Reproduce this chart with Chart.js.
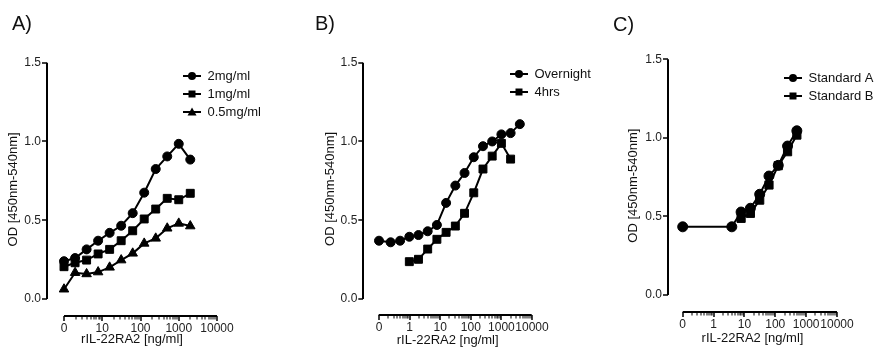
<!DOCTYPE html>
<html>
<head>
<meta charset="utf-8">
<script src="https://cdn.jsdelivr.net/npm/chart.js@4.4.1/dist/chart.umd.min.js"></script>
<style>
    body { margin: 0; background: #fff; }
    #painel { position: relative; width: 888px; height: 354px; overflow: hidden; font-family: "Liberation Sans", Arial, sans-serif; }
    .grafico { position: absolute; top: 0; width: 296px; height: 354px; }
    .letra { position: absolute; font-size: 20px; line-height: 22px; color: #111; }
</style>
</head>
<body>
<div id="painel">
    <div class="grafico" style="left:0px"><canvas id="graficoA" width="296" height="354"></canvas></div>
    <div class="grafico" style="left:296px"><canvas id="graficoB" width="296" height="354"></canvas></div>
    <div class="grafico" style="left:592px"><canvas id="graficoC" width="296" height="354"></canvas></div>
    <div class="letra" style="left:12px;top:12px">A)</div>
    <div class="letra" style="left:315px;top:12px">B)</div>
    <div class="letra" style="left:613px;top:13px">C)</div>
</div>
<script>
const FONTE = '"Liberation Sans", Arial, sans-serif';

// A) concentração (ng/ml) x OD
const concA = [0, 1.95, 3.9, 7.8, 15.6, 31.25, 62.5, 125, 250, 500, 1000, 2000];
const od2mg = [0.24, 0.26, 0.315, 0.37, 0.42, 0.465, 0.545, 0.675, 0.825, 0.905, 0.985, 0.885];
const od1mg = [0.205, 0.23, 0.247, 0.286, 0.315, 0.37, 0.433, 0.508, 0.571, 0.639, 0.630, 0.671];
const od05mg = [0.062, 0.167, 0.159, 0.171, 0.201, 0.247, 0.29, 0.353, 0.385, 0.449, 0.48, 0.463];

// B)
const concOvernight = [0, 0.24, 0.49, 0.98, 1.95, 3.9, 7.8, 15.6, 31.25, 62.5, 125, 250, 500, 1000, 2000, 4000];
const odOvernight = [0.37, 0.36, 0.37, 0.395, 0.406, 0.43, 0.47, 0.61, 0.72, 0.80, 0.90, 0.97, 1.0, 1.045, 1.053, 1.11];
const conc4hrs = [0.98, 1.95, 3.9, 7.8, 15.6, 31.25, 62.5, 125, 250, 500, 1000, 2000];
const od4hrs = [0.237, 0.252, 0.317, 0.379, 0.423, 0.463, 0.544, 0.674, 0.825, 0.907, 0.988, 0.888];

// C)
const concPadraoA = [0, 3.9, 7.8, 15.6, 31.25, 62.5, 125, 250, 500];
const odPadraoA = [0.434, 0.434, 0.528, 0.552, 0.641, 0.757, 0.825, 0.948, 1.045];
const concPadraoB = [7.8, 15.6, 31.25, 62.5, 125, 250, 500];
const odPadraoB = [0.488, 0.52, 0.604, 0.70, 0.823, 0.912, 1.018];

// eixos
const ticksY = [0, 0.5, 1.0, 1.5];
const rotulosY = ['0.0', '0.5', '1.0', '1.5'];
const ticksXA = [1, 10, 100, 1000, 10000];
const rotulosXA = ['0', '10', '100', '1000', '10000'];
const ticksXBC = [0.1, 1, 10, 100, 1000, 10000];
const rotulosXBC = ['0', '1', '10', '100', '1000', '10000'];

const tituloY = 'OD [450nm-540nm]';
const tituloX = 'rIL-22RA2 [ng/ml]';

function paraPontos(conc, od, posZero) {
    return conc.map((c, i) => ({ x: c === 0 ? posZero : c, y: od[i] }));
}

function amostraLegenda(estilo) {
    const c = document.createElement('canvas');
    c.width = 18;
    c.height = 12;
    const g = c.getContext('2d');
    g.fillStyle = '#000';
    g.strokeStyle = '#000';
    g.lineWidth = 2;
    g.beginPath();
    g.moveTo(0, 6);
    g.lineTo(18, 6);
    g.stroke();
    g.beginPath();
    if (estilo === 'rect') {
        g.rect(5.5, 2.5, 7, 7);
    } else if (estilo === 'triangle') {
        g.moveTo(9, 1.5);
        g.lineTo(13.5, 9.5);
        g.lineTo(4.5, 9.5);
        g.closePath();
    } else {
        g.arc(9, 6, 4, 0, Math.PI * 2);
    }
    g.fill();
    return c;
}

function serie(rotulo, pontos, estilo, raio) {
    return {
        label: rotulo,
        data: pontos,
        pointStyle: estilo,
        pointRadius: raio,
        pointBackgroundColor: '#000',
        pointBorderColor: '#000',
        pointBorderWidth: 1,
        borderColor: '#000',
        backgroundColor: '#000',
        borderWidth: 2,
        tension: 0,
        fill: false
    };
}

// move a legenda para a posição desejada depois do layout
const moverLegenda = {
    id: 'moverLegenda',
    afterLayout(chart, args, opts) {
        const lg = chart.legend;
        if (!lg) return;
        const w = lg.width;
        const h = lg.height;
        lg.left = opts.x - 5;
        lg.right = lg.left + w;
        lg.top = opts.y - 6.5 - 5;
        lg.bottom = lg.top + h;
    }
};

function criarGrafico(id, geo, maiores, rotulos, datasets) {
    const ctx = document.getElementById(id).getContext('2d');

    const nDecadas = Math.log10(maiores[maiores.length - 1] / maiores[0]);
    const pxDecada = (geo.direita - geo.inicioX) / nDecadas;
    const folgaX = geo.inicioX - geo.eixoY;
    const xMin = maiores[0] / Math.pow(10, folgaX / pxDecada);
    const pxUnidade = (geo.zeroY - geo.topo) / 1.5;
    const yMin = -(geo.eixoX - geo.zeroY) / pxUnidade;

    const menores = [];
    for (let i = 0; i < maiores.length - 1; i++) {
        for (let k = 2; k <= 9; k++) menores.push(maiores[i] * k);
    }
    const valoresX = [xMin].concat(maiores, menores).sort((a, b) => a - b);
    const ehMaior = (v) => maiores.findIndex(m => Math.abs(v - m) / m < 1e-6);

    const compY = geo.zeroY - geo.topo;
    const compX = geo.direita - geo.inicioX;

    return new Chart(ctx, {
        type: 'line',
        data: { datasets },
        plugins: [moverLegenda],
        options: {
            responsive: false,
            animation: false,
            devicePixelRatio: 1,
            layout: {
                padding: { left: 0, top: geo.topo, right: 296 - geo.direita, bottom: 0 }
            },
            scales: {
                x: {
                    type: 'logarithmic',
                    min: xMin,
                    max: maiores[maiores.length - 1],
                    afterBuildTicks: (eixo) => {
                        eixo.ticks = valoresX.map(v => ({ value: v }));
                    },
                    afterFit: (eixo) => {
                        eixo.height = 354 - geo.eixoX;
                    },
                    ticks: {
                        autoSkip: false,
                        maxRotation: 0,
                        minRotation: 0,
                        padding: 0,
                        color: '#222',
                        font: { family: FONTE, size: 12 },
                        callback: (valor) => {
                            const i = ehMaior(valor);
                            return i >= 0 ? rotulos[i] : '';
                        }
                    },
                    grid: {
                        // a linha de grade do primeiro tick faz o papel do eixo Y
                        color: (c) => c.index === 0 ? '#000' : 'rgba(0,0,0,0)',
                        lineWidth: (c) => c.index === 0 ? 2 : 0,
                        tickLength: 5,
                        tickColor: (c) => c.index === 0 ? 'rgba(0,0,0,0)' : '#000',
                        tickWidth: (c) => c.tick && ehMaior(c.tick.value) >= 0 ? 1.5 : 1,
                        tickBorderDash: (c) => c.tick && ehMaior(c.tick.value) >= 0 ? [] : [3.5, 20]
                    },
                    border: {
                        display: false,
                        dash: (c) => c.index === 0 ? [compY, 1000] : []
                    },
                    title: {
                        display: true,
                        text: tituloX,
                        color: '#111',
                        font: { family: FONTE, size: 13 },
                        padding: { top: 0, bottom: 354 - 7.8 - geo.tituloXY }
                    }
                },
                y: {
                    type: 'linear',
                    min: yMin,
                    max: 1.5,
                    afterBuildTicks: (eixo) => {
                        eixo.ticks = [yMin].concat(ticksY).map(v => ({ value: v }));
                    },
                    afterFit: (eixo) => {
                        eixo.width = geo.eixoY;
                    },
                    ticks: {
                        padding: 1,
                        color: '#222',
                        font: { family: FONTE, size: 12 },
                        callback: (valor, i) => i === 0 ? '' : rotulosY[i - 1]
                    },
                    grid: {
                        // a linha de grade do primeiro tick faz o papel do eixo X
                        color: (c) => c.index === 0 ? '#000' : 'rgba(0,0,0,0)',
                        lineWidth: (c) => c.index === 0 ? 2 : 0,
                        tickLength: 5,
                        tickColor: (c) => c.index === 0 ? 'rgba(0,0,0,0)' : '#000',
                        tickWidth: 1.5
                    },
                    border: {
                        display: false,
                        dash: (c) => c.index === 0 ? [compX, folgaX] : [],
                        dashOffset: (c) => c.index === 0 ? compX : 0
                    },
                    title: {
                        display: true,
                        text: tituloY,
                        color: '#111',
                        font: { family: FONTE, size: 13 },
                        padding: { top: geo.tituloYX - 7.8, bottom: 0 }
                    }
                }
            },
            plugins: {
                legend: {
                    position: 'chartArea',
                    align: 'start',
                    labels: {
                        usePointStyle: true,
                        pointStyleWidth: 18,
                        padding: 5,
                        color: '#111',
                        font: { family: FONTE, size: 13 },
                        generateLabels: (chart) => chart.data.datasets.map((ds, i) => ({
                            text: ds.label,
                            pointStyle: amostraLegenda(ds.pointStyle),
                            fillStyle: '#000',
                            strokeStyle: '#000',
                            fontColor: '#111',
                            lineWidth: 0,
                            hidden: false,
                            datasetIndex: i
                        }))
                    }
                },
                moverLegenda: { x: geo.legendaX, y: geo.legendaY },
                tooltip: { enabled: false }
            }
        }
    });
}

criarGrafico('graficoA',
    { eixoY: 47, inicioX: 64, direita: 217, topo: 62.7, zeroY: 299, eixoX: 316,
      tituloYX: 13, tituloXY: 339, legendaX: 183, legendaY: 76 },
    ticksXA, rotulosXA, [
        serie('2mg/ml', paraPontos(concA, od2mg, 1), 'circle', 4.5),
        serie('1mg/ml', paraPontos(concA, od1mg, 1), 'rect', 5.6),
        serie('0.5mg/ml', paraPontos(concA, od05mg, 1), 'triangle', 5.5)
    ]);

criarGrafico('graficoB',
    { eixoY: 67.3, inicioX: 83, direita: 236, topo: 62.7, zeroY: 299, eixoX: 315,
      tituloYX: 34, tituloXY: 340, legendaX: 214, legendaY: 74 },
    ticksXBC, rotulosXBC, [
        serie('Overnight', paraPontos(concOvernight, odOvernight, 0.1), 'circle', 4.5),
        serie('4hrs', paraPontos(conc4hrs, od4hrs, 0.1), 'rect', 5.6)
    ]);

criarGrafico('graficoC',
    { eixoY: 76, inicioX: 90.7, direita: 245, topo: 59.3, zeroY: 295, eixoX: 312,
      tituloYX: 41, tituloXY: 338, legendaX: 192, legendaY: 78 },
    ticksXBC, rotulosXBC, [
        serie('Standard A', paraPontos(concPadraoA, odPadraoA, 0.1), 'circle', 5),
        serie('Standard B', paraPontos(concPadraoB, odPadraoB, 0.1), 'rect', 5.8)
    ]);
</script>
</body>
</html>
